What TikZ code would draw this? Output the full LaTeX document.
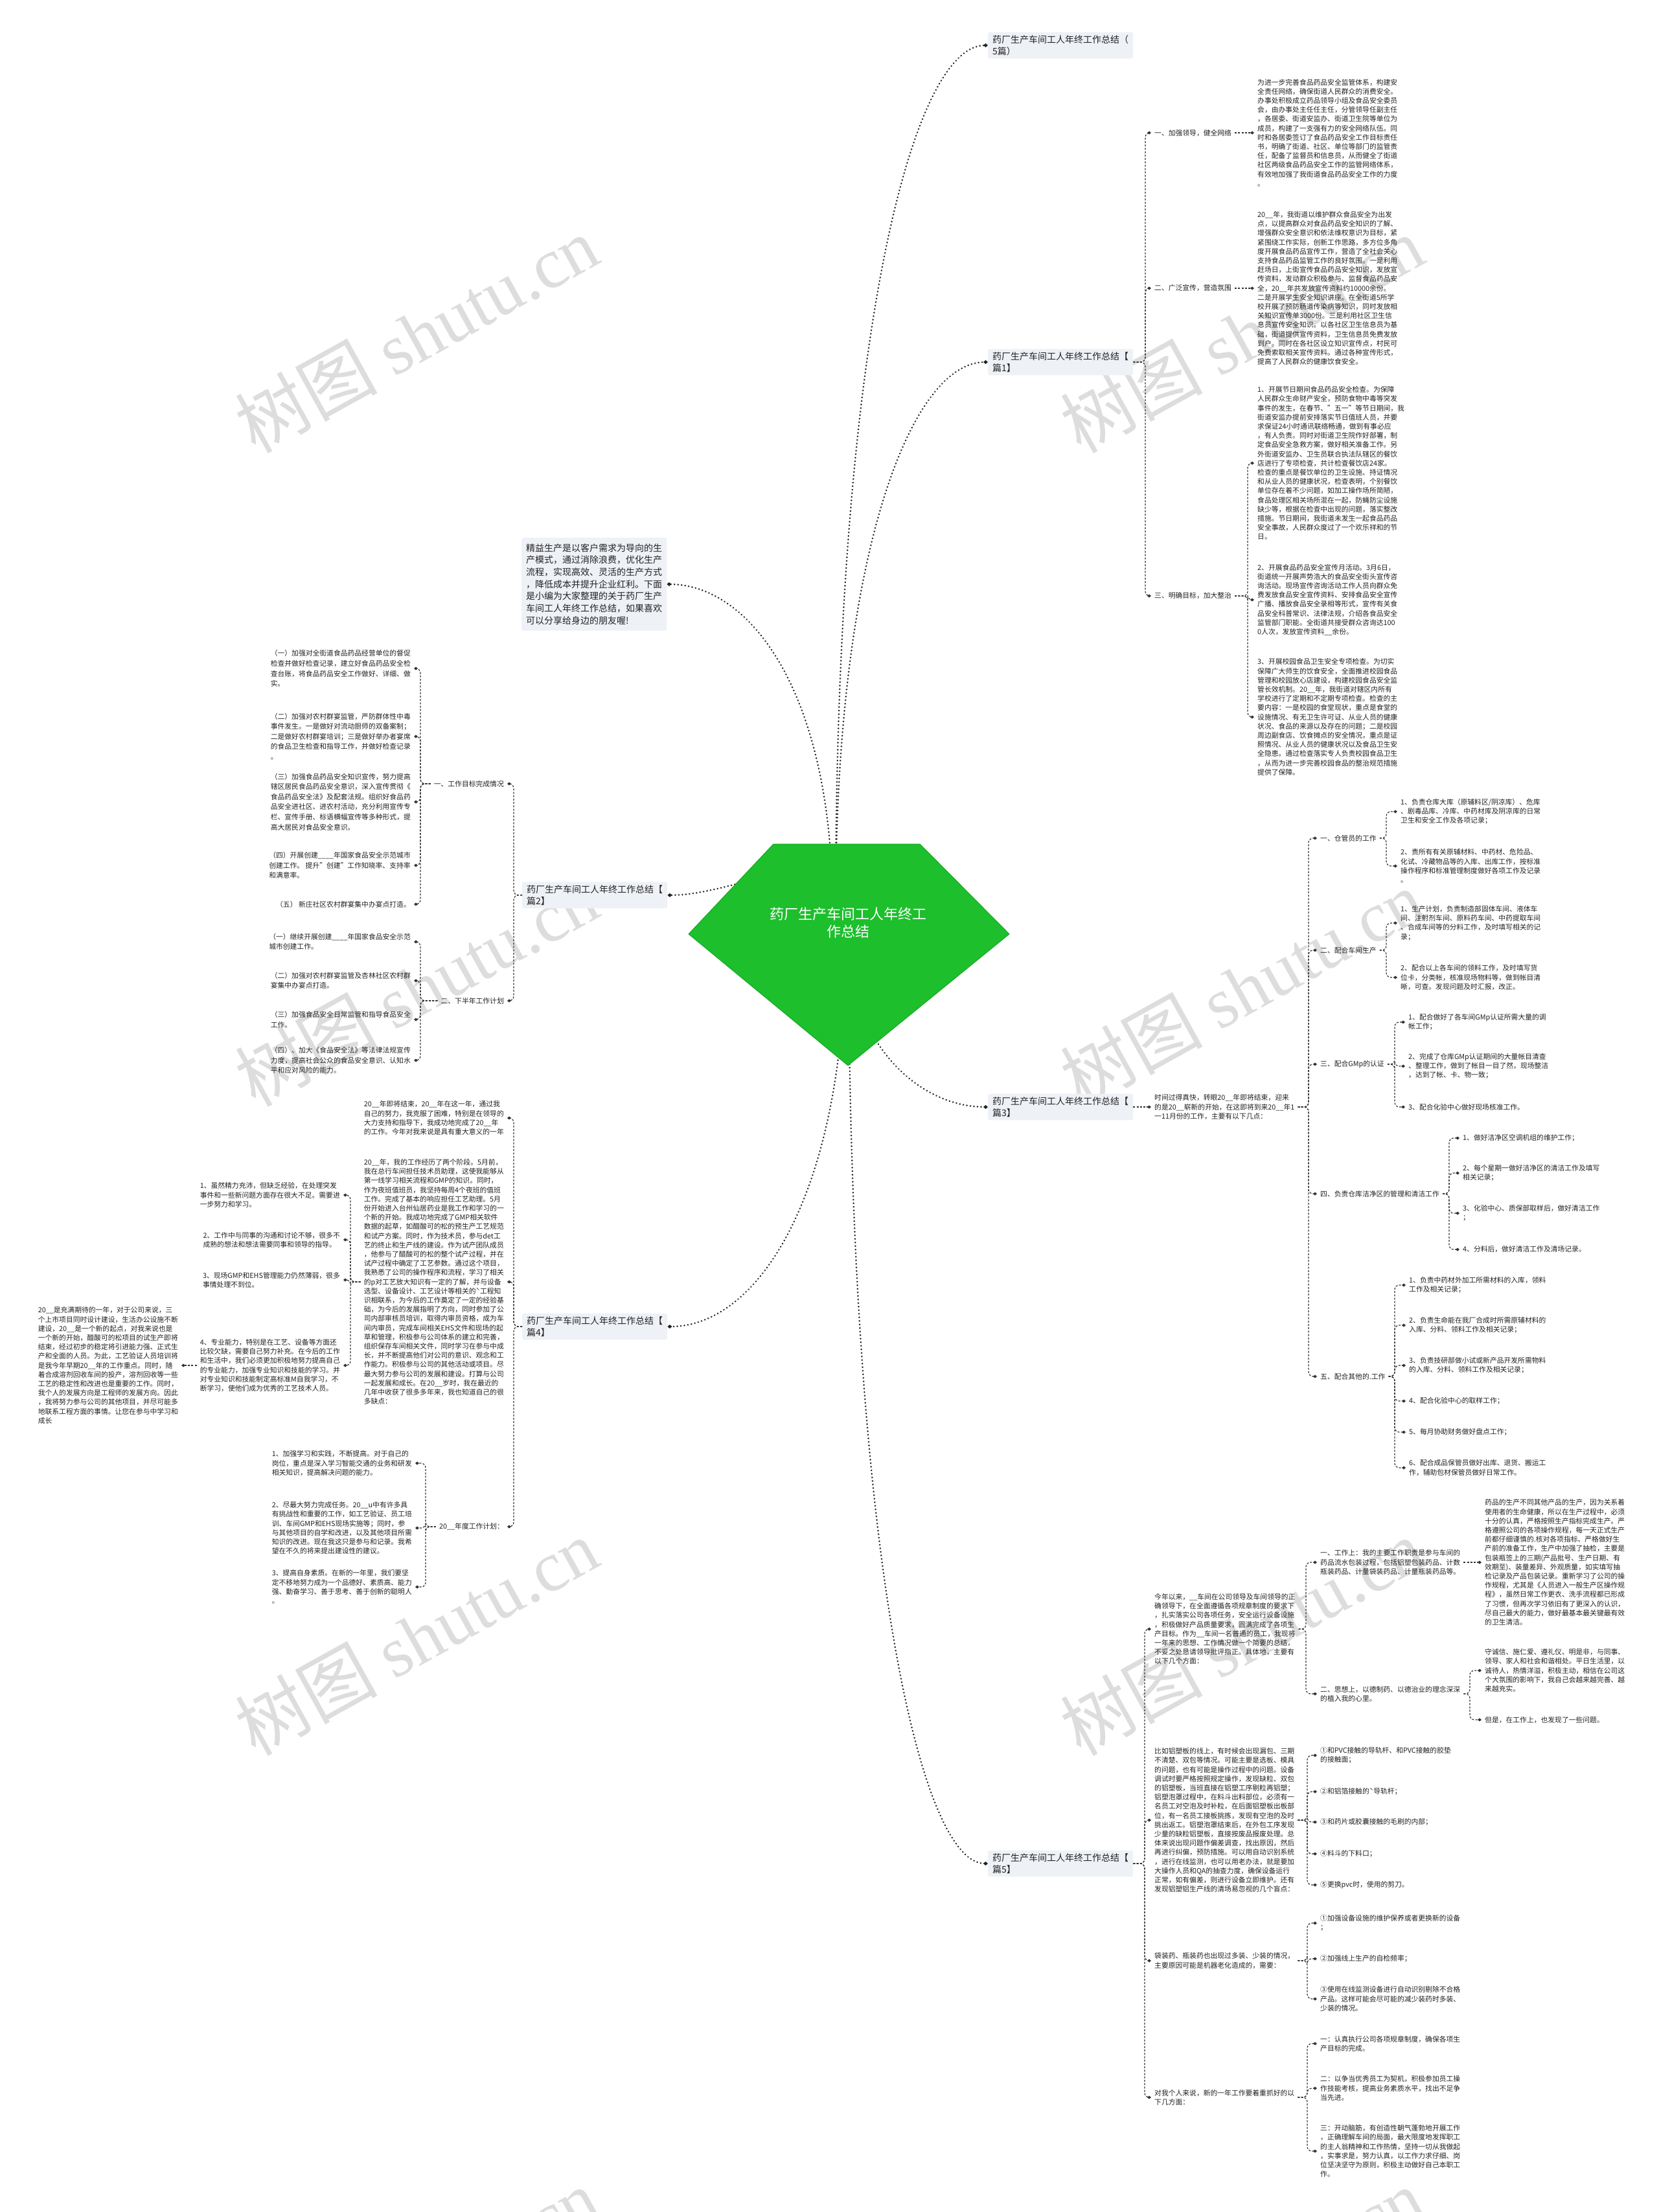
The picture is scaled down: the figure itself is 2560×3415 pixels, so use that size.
\documentclass[tikz,border=0pt]{standalone}
\usepackage{fontspec}
\setmainfont{Noto Sans CJK SC}
\newfontfamily\wmlat{Liberation Serif}
\usetikzlibrary{arrows.meta}
\definecolor{lc}{HTML}{333333}
\definecolor{mlc}{HTML}{222222}
\definecolor{tfill}{HTML}{EEF1F6}
\definecolor{rootg}{HTML}{1DBF2C}
\definecolor{rootb}{HTML}{17A824}
\definecolor{wmc}{HTML}{DDDDDD}
\definecolor{txc}{HTML}{222222}
\newcommand\conR[3]{\draw[sub] (#1.east) -| (#2,0 |- #3.west) -- (#3.west);}
\newcommand\conL[3]{\draw[sub] (#1.west) -| (#2,0 |- #3.east) -- (#3.east);}
\newcommand\wmark[2]{\node[wm] at (#1,#2) {树图 {\wmlat shutu.cn}};}
\begin{document}
\begin{tikzpicture}[x=1pt,y=-1pt,
 body/.style={inner xsep=5pt,inner ysep=1pt,align=left,text=txc,font=\fontsize{10.8}{14.2}\selectfont},
 bodyB/.style={body,font=\fontsize{10.8}{15.6}\selectfont},
 ttl/.style={fill=tfill,rounded corners=3pt,inner xsep=7pt,inner ysep=5pt,align=left,text=txc,font=\fontsize{14}{17.5}\selectfont},
 sub/.style={draw=lc,line width=1.2pt,dash pattern=on 3pt off 2.2pt,rounded corners=7pt,-{Diamond[length=6pt,width=5pt]}},
 mainc/.style={draw=mlc,line width=2.8pt,dash pattern=on 0.01pt off 5.5pt,line cap=round,-{Diamond[length=7pt,width=6pt]}},
 wm/.style={text=wmc,font=\fontsize{110}{110}\selectfont,rotate=29},
]
\fill[white] (0,0) rectangle (2560,3415);
\useasboundingbox (0,0) rectangle (2560,3415);
% watermarks
\wmark{643}{516}\wmark{1917}{516}
\wmark{643}{1525}\wmark{1917}{1525}
\wmark{643}{2527}\wmark{1917}{2527}
\wmark{643}{3530}\wmark{1917}{3530}

% ---------- titles ----------
\node[ttl,anchor=west] (b0) at (1525,70) {药厂生产车间工人年终工作总结（\\5篇）};
\node[ttl,anchor=west] (b1) at (1525,559) {药厂生产车间工人年终工作总结【\\篇1】};
\node[ttl,anchor=west] (b2) at (806,1382) {药厂生产车间工人年终工作总结【\\篇2】};
\node[ttl,anchor=west] (b3) at (1525,1709) {药厂生产车间工人年终工作总结【\\篇3】};
\node[ttl,anchor=west] (b4) at (806,2048) {药厂生产车间工人年终工作总结【\\篇4】};
\node[ttl,anchor=west] (b5) at (1525,2877) {药厂生产车间工人年终工作总结【\\篇5】};
\node[fill=tfill,rounded corners=3pt,anchor=north west,inner xsep=7pt,inner ysep=9pt,align=left,text=txc,font=\fontsize{14}{18.7}\selectfont] (intro) at (805,830)
 {精益生产是以客户需求为导向的生\\产模式，通过消除浪费，优化生产\\流程，实现高效、灵活的生产方式\\，降低成本并提升企业红利。下面\\是小编为大家整理的关于药厂生产\\车间工人年终工作总结，如果喜欢\\可以分享给身边的朋友喔!};

% ---------- main connectors ----------
\draw[mainc] (1290,1400) .. controls (1290,528) and (1407,70) .. (b0.west);
\draw[mainc] (1290,1400) .. controls (1290,853) and (1407,559) .. (b1.west);
\draw[mainc] (1285,1400) .. controls (1285,1077) and (1162,903) .. (intro.east);
\draw[mainc] (1285,1400) .. controls (1285,1290) and (1140,1382) .. (b2.east);
\draw[mainc] (1310,1450) .. controls (1310,1608) and (1417,1709) .. (b3.west);
\draw[mainc] (1305,1450) .. controls (1305,1839) and (1172,2048) .. (b4.east);
\draw[mainc] (1310,1450) .. controls (1310,2378) and (1417,2877) .. (b5.west);

% ---------- root ----------
\fill[rootg,draw=rootb,line width=1pt] (1194,1303) -- (1420,1303) -- (1558,1442) -- (1309,1645) -- (1063,1442) -- cycle;
\node[text=white,align=center,font=\fontsize{22}{27}\selectfont] (root) at (1309,1425) {药厂生产车间工人年终工\\作总结};

% ---------- 篇1 ----------
\node[body,anchor=west] (L1a) at (1777,205) {一、加强领导，健全网络};
\node[body,anchor=west] (L1b) at (1777,445) {二、广泛宣传，营造氛围};
\node[body,anchor=west] (L1c) at (1777,920) {三、明确目标，加大整治};
\conR{b1}{1768}{L1a}\conR{b1}{1768}{L1b}\conR{b1}{1768}{L1c}
\node[body,anchor=west] (B1a) at (1936,205) {为进一步完善食品药品安全监管体系，构建安\\全责任网络，确保街道人民群众的消费安全。\\办事处积极成立药品领导小组及食品安全委员\\会，由办事处主任任主任，分管领导任副主任\\，各居委、街道安监办、街道卫生院等单位为\\成员，构建了一支强有力的安全网络队伍。同\\时和各居委签订了食品药品安全工作目标责任\\书，明确了街道、社区、单位等部门的监管责\\任，配备了监督员和信息员，从而健全了街道\\社区两级食品药品安全工作的监管网络体系，\\有效地加强了我街道食品药品安全工作的力度\\。};
\node[body,anchor=west] (B1b) at (1936,445) {20\_\_年，我街道以维护群众食品安全为出发\\点，以提高群众对食品药品安全知识的了解、\\增强群众安全意识和依法维权意识为目标，紧\\紧围绕工作实际，创新工作思路，多方位多角\\度开展食品药品宣传工作，营造了全社会关心\\支持食品药品监管工作的良好氛围。一是利用\\赶场日，上街宣传食品药品安全知识，发放宣\\传资料，发动群众积极参与、监督食品药品安\\全，20\_\_年共发放宣传资料约10000余份。\\二是开展学生安全知识讲座。在全街道5所学\\校开展了预防肠道传染病等知识，同时发放相\\关知识宣传单3000份。三是利用社区卫生信\\息员宣传安全知识。以各社区卫生信息员为基\\础，街道提供宣传资料，卫生信息员免费发放\\到户。同时在各社区设立知识宣传点，村民可\\免费索取相关宣传资料。通过各种宣传形式，\\提高了人民群众的健康饮食安全。};
\node[body,anchor=west] (B1c1) at (1936,715) {1、开展节日期间食品药品安全检查。为保障\\人民群众生命财产安全，预防食物中毒等突发\\事件的发生，在春节、"五一"等节日期间，我\\街道安监办提前安排落实节日值班人员，并要\\求保证24小时通讯联络畅通，做到有事必应\\，有人负责。同时对街道卫生院作好部署，制\\定食品安全急救方案，做好相关准备工作。另\\外街道安监办、卫生员联合执法队辖区的餐饮\\店进行了专项检查，共计检查餐饮店24家。\\检查的重点是餐饮单位的卫生设施、持证情况\\和从业人员的健康状况，检查表明，个别餐饮\\单位存在着不少问题，如加工操作场所简陋，\\食品处理区相关场所混在一起，防蝇防尘设施\\缺少等，根据在检查中出现的问题，落实整改\\措施。节日期间，我街道未发生一起食品药品\\安全事故，人民群众度过了一个欢乐祥和的节\\日。};
\node[body,anchor=west] (B1c2) at (1936,926) {2、开展食品药品安全宣传月活动。3月6日，\\街道统一开展声势浩大的食品安全街头宣传咨\\询活动。现场宣传咨询活动工作人员向群众免\\费发放食品安全宣传资料、安排食品安全宣传\\广播、播放食品安全录相等形式，宣传有关食\\品安全科普常识、法律法规，介绍各食品安全\\监管部门职能。全街道共接受群众咨询达100\\0人次，发放宣传资料\_\_余份。};
\node[body,anchor=west] (B1c3) at (1936,1107) {3、开展校园食品卫生安全专项检查。为切实\\保障广大师生的饮食安全，全面推进校园食品\\管理和校园放心店建设，构建校园食品安全监\\管长效机制。20\_\_年，我街道对辖区内所有\\学校进行了定期和不定期专项检查。检查的主\\要内容：一是校园的食堂现状，重点是食堂的\\设施情况、有无卫生许可证、从业人员的健康\\状况、食品的来源以及存在的问题；二是校园\\周边副食店、饮食摊点的安全情况，重点是证\\照情况、从业人员的健康状况以及食品卫生安\\全隐患。通过检查落实专人负责校园食品卫生\\，从而为进一步完善校园食品的整治规范措施\\提供了保障。};
\draw[sub] (L1a.east) -- (B1a.west);
\draw[sub] (L1b.east) -- (B1b.west);
\conR{L1c}{1926}{B1c1}\conR{L1c}{1926}{B1c2}\conR{L1c}{1926}{B1c3}

% ---------- 篇2 ----------
\node[body,anchor=east] (LA) at (783,1210) {一、工作目标完成情况};
\node[body,anchor=east] (LB) at (783,1545) {二、下半年工作计划};
\conL{b2}{793}{LA}\conL{b2}{793}{LB}
\node[bodyB,anchor=east] (A1) at (639,1032) {（一）加强对全街道食品药品经营单位的督促\\检查并做好检查记录，建立好食品药品安全检\\查台账，将食品药品安全工作做好、详细、做\\实。};
\node[bodyB,anchor=east] (A2) at (639,1137) {（二）加强对农村群宴监管，严防群体性中毒\\事件发生。一是做好对流动厨师的双备案制；\\二是做好农村群宴培训；三是做好举办者宴席\\的食品卫生检查和指导工作，并做好检查记录\\。};
\node[bodyB,anchor=east] (A3) at (639,1238) {（三）加强食品药品安全知识宣传，努力提高\\辖区居民食品药品安全意识，深入宣传贯彻《\\食品药品安全法》及配套法规。组织好食品药\\品安全进社区、进农村活动，充分利用宣传专\\栏、宣传手册、标语横幅宣传等多种形式，提\\高大居民对食品安全意识。};
\node[bodyB,anchor=east] (A4) at (639,1336) {（四）开展创建\_\_\_\_年国家食品安全示范城市\\创建工作。 提升"创建"工作知晓率、支持率\\和满意率。};
\node[bodyB,anchor=east] (A5) at (639,1396) {（五） 新庄社区农村群宴集中办宴点打造。};
\conL{LA}{649}{A1}\conL{LA}{649}{A2}\conL{LA}{649}{A3}\conL{LA}{649}{A4}\conL{LA}{649}{A5}
\node[bodyB,anchor=east] (C1) at (639,1454) {（一）继续开展创建\_\_\_\_年国家食品安全示范\\城市创建工作。};
\node[bodyB,anchor=east] (C2) at (639,1514) {（二）加强对农村群宴监管及杏林社区农村群\\宴集中办宴点打造。};
\node[bodyB,anchor=east] (C3) at (639,1574) {（三）加强食品安全日常监管和指导食品安全\\工作。};
\node[bodyB,anchor=east] (C4) at (639,1637) {（四）、加大《食品安全法》等法律法规宣传\\力度，提高社会公众的食品安全意识、认知水\\平和应对风险的能力。};
\conL{LB}{649}{C1}\conL{LB}{649}{C2}\conL{LB}{649}{C3}\conL{LB}{649}{C4}

% ---------- 篇3 ----------
\node[body,anchor=west] (P) at (1777,1709) {时间过得真快，转眼20\_\_年即将结束，迎来\\的是20\_\_崭新的开始，在这即将到来20\_\_年1\\一11月份的工作，主要有以下几点：};
\draw[sub] (b3.east) -- (P.west);
\node[body,anchor=west] (Q1) at (2033,1294) {一、仓管员的工作};
\node[body,anchor=west] (Q2) at (2033,1467) {二、配合车间生产};
\node[body,anchor=west] (Q3) at (2033,1643) {三、配合GMp的认证};
\node[body,anchor=west] (Q4) at (2033,1843) {四、负责仓库洁净区的管理和清洁工作};
\node[body,anchor=west] (Q5) at (2033,2125) {五、配合其他的.工作};
\conR{P}{2020}{Q1}\conR{P}{2020}{Q2}\conR{P}{2020}{Q3}\conR{P}{2020}{Q4}\conR{P}{2020}{Q5}
\node[body,anchor=west] (Q11) at (2157,1253) {1、负责仓库大库（原辅料区/阴凉库）、危库\\、剧毒品库、冷库、中药材库及阴凉库的日常\\卫生和安全工作及各项记录；};
\node[body,anchor=west] (Q12) at (2157,1337) {2、责所有有关原辅材料、中药材、危险品、\\化试、冷藏物品等的入库、出库工作，按标准\\操作程序和标准管理制度做好各项工作及记录\\。};
\conR{Q1}{2140}{Q11}\conR{Q1}{2140}{Q12}
\node[body,anchor=west] (Q21) at (2157,1425) {1、生产计划，负责制造部固体车间、液体车\\间、注射剂车间、原料药车间、中药提取车间\\、合成车间等的分料工作，及时填写相关的记\\录；};
\node[body,anchor=west] (Q22) at (2157,1509) {2、配合以上各车间的领料工作，及时填写货\\位卡，分类帐，核准现场物料等，做到帐目清\\晰，可查。发现问题及时汇报，改正。};
\conR{Q2}{2140}{Q21}\conR{Q2}{2140}{Q22}
\node[body,anchor=west] (Q31) at (2169,1578) {1、配合做好了各车间GMp认证所需大量的调\\帐工作；};
\node[body,anchor=west] (Q32) at (2169,1646) {2、完成了仓库GMp认证期间的大量帐目清查\\、整理工作，做到了帐目一目了然，现场整洁\\，达到了帐、卡、物一致；};
\node[body,anchor=west] (Q33) at (2169,1709) {3、配合化验中心做好现场核准工作。};
\conR{Q3}{2153}{Q31}\conR{Q3}{2153}{Q32}\conR{Q3}{2153}{Q33}
\node[body,anchor=west] (Q41) at (2253,1757) {1、做好洁净区空调机组的维护工作；};
\node[body,anchor=west] (Q42) at (2253,1811) {2、每个星期一做好洁净区的清洁工作及填写\\相关记录；};
\node[body,anchor=west] (Q43) at (2253,1873) {3、化验中心、质保部取样后，做好清洁工作\\；};
\node[body,anchor=west] (Q44) at (2253,1929) {4、分料后，做好清洁工作及清场记录。};
\conR{Q4}{2237}{Q41}\conR{Q4}{2237}{Q42}\conR{Q4}{2237}{Q43}\conR{Q4}{2237}{Q44}
\node[body,anchor=west] (Q51) at (2170,1984) {1、负责中药材外加工所需材料的入库，领料\\工作及相关记录；};
\node[body,anchor=west] (Q52) at (2170,2046) {2、负责生命能在我厂合成时所需原辅材料的\\入库、分料、领料工作及相关记录；};
\node[body,anchor=west] (Q53) at (2170,2108) {3、负责技研部做小试或新产品开发所需物料\\的入库、分料、领料工作及相关记录；};
\node[body,anchor=west] (Q54) at (2170,2163) {4、配合化验中心的取样工作；};
\node[body,anchor=west] (Q55) at (2170,2211) {5、每月协助财务做好盘点工作；};
\node[body,anchor=west] (Q56) at (2170,2266) {6、配合成品保管员做好出库、退货、搬运工\\作，辅助包材保管员做好日常工作。};
\conR{Q5}{2153}{Q51}\conR{Q5}{2153}{Q52}\conR{Q5}{2153}{Q53}\conR{Q5}{2153}{Q54}\conR{Q5}{2153}{Q55}\conR{Q5}{2153}{Q56}

% ---------- 篇4 ----------
\node[body,anchor=east] (K1) at (783,1726) {20\_\_年即将结束，20\_\_年在这一年，通过我\\自己的努力，我克服了困难，特别是在领导的\\大力支持和指导下，我成功地完成了20\_\_年\\的工作。今年对我来说是具有重大意义的一年};
\node[body,anchor=east] (K2) at (783,1979) {20\_\_年，我的工作经历了两个阶段。5月前，\\我在总行车间担任技术员助理，这使我能够从\\第一线学习相关流程和GMP的知识。同时，\\作为夜班值班员，我坚持每周4个夜班的值班\\工作。完成了基本的响应担任工艺助理。5月\\份开始进入台州仙居药业是我工作和学习的一\\个新的开始。我成功地完成了GMP相关软件\\数据的起草，如醋酸可的松的预生产工艺规范\\和试产方案。同时，作为技术员，参与det工\\艺的终止和生产线的建设。作为试产团队成员\\，他参与了醋酸可的松的整个试产过程，并在\\试产过程中确定了工艺参数。通过这个项目，\\我熟悉了公司的操作程序和流程，学习了相关\\的p对工艺放大知识有一定的了解，并与设备\\选型、设备设计、工艺设计等相关的ˋ工程知\\识相联系，为今后的工作奠定了一定的经验基\\础，为今后的发展指明了方向，同时参加了公\\司内部审核员培训，取得内审员资格，成为车\\间内审员，完成车间相关EHS文件和现场的起\\草和管理，积极参与公司体系的建立和完善，\\组织保存车间相关文件，同时学习在参与中成\\长，并不断提高他们对公司的意识、观念和工\\作能力。积极参与公司的其他活动或项目。尽\\最大努力参与公司的发展和建设。打算与公司\\一起发展和成长。在20\_\_岁时，我在最近的\\几年中收获了很多多年来，我也知道自己的很\\多缺点：};
\node[body,anchor=east] (K3) at (783,2357) {20\_\_年度工作计划：};
\conL{b4}{793}{K1}\conL{b4}{793}{K2}\conL{b4}{793}{K3}
\node[body,anchor=east] (M1) at (530,1845) {1、虽然精力充沛，但缺乏经验，在处理突发\\事件和一些新问题方面存在很大不足。需要进\\一步努力和学习。};
\node[body,anchor=east] (M2) at (530,1914) {2、工作中与同事的沟通和讨论不够，很多不\\成熟的想法和想法需要同事和领导的指导。};
\node[body,anchor=east] (M3) at (530,1976) {3、现场GMP和EHS管理能力仍然薄弱，很多\\事情处理不到位。};
\node[body,anchor=east] (M4) at (530,2108) {4、专业能力，特别是在工艺、设备等方面还\\比较欠缺，需要自己努力补充。在今后的工作\\和生活中，我们必须更加积极地努力提高自己\\的专业能力，加强专业知识和技能的学习。并\\对专业知识和技能制定高标准M自我学习，不\\断学习，使他们成为优秀的工艺技术人员。};
\conL{K2}{541}{M1}\conL{K2}{541}{M2}\conL{K2}{541}{M3}\conL{K2}{541}{M4}
\node[body,anchor=east] (Y) at (280,2108) {20\_\_是充满期待的一年，对于公司来说，三\\个上市项目同时设计建设，生活办公设施不断\\建设，20\_\_是一个新的起点，对我来说也是\\一个新的开始，醋酸可的松项目的试生产即将\\结束，经过初步的稳定将引进能力强、正式生\\产和全面的人员。为此，工艺验证人员培训将\\是我今年早期20\_\_年的工作重点。同时，随\\着合成溶剂回收车间的投产，溶剂回收等一些\\工艺的稳定性和改进也是重要的工作。同时，\\我个人的发展方向是工程师的发展方向。因此\\，我将努力参与公司的其他项目，并尽可能多\\地联系工程方面的事情。让您在参与中学习和\\成长};
\draw[sub] (M4.west) -- (Y.east);
\node[body,anchor=east] (N1) at (641,2259) {1、加强学习和实践，不断提高。对于自己的\\岗位，重点是深入学习智能交通的业务和研发\\相关知识，提高解决问题的能力。};
\node[body,anchor=east] (N2) at (641,2359) {2、尽最大努力完成任务。20\_\_u中有许多具\\有挑战性和重要的工作，如工艺验证、员工培\\训、车间GMP和EHS现场实施等；同时，参\\与其他项目的自学和改进，以及其他项目所需\\知识的改进。现在我这只是参与和记录。我希\\望在不久的将来提出建设性的建议。};
\node[body,anchor=east] (N3) at (641,2450) {3、提高自身素质。在新的一年里，我们要坚\\定不移地努力成为一个品德好、素质高、能力\\强、勤奋学习、善于思考、善于创新的聪明人\\。};
\conL{K3}{657}{N1}\conL{K3}{657}{N2}\conL{K3}{657}{N3}

% ---------- 篇5 ----------
\node[body,anchor=west] (R1) at (1777,2515) {今年以来，\_\_车间在公司领导及车间领导的正\\确领导下，在全面遵循各项规章制度的要求下\\，扎实落实公司各项任务，安全运行设备设施\\，积极做好产品质量要求，圆满完成了各项生\\产目标。作为\_\_车间一名普通的员工，我现将\\一年来的思想、工作情况做一个简要的总结，\\不妥之处恳请领导批评指正。具体地，主要有\\以下几个方面：};
\node[body,anchor=west] (R2) at (1777,2810) {比如铝塑板的线上，有时候会出现漏包、三期\\不清楚、双包等情况。可能主要是选板、模具\\的问题，也有可能是操作过程中的问题。设备\\调试时要严格按照规定操作，发现缺粒、双包\\的铝塑板，当班直接在铝塑工序剔粒再铝塑；\\铝塑泡罩过程中，在料斗出料部位，必须有一\\名员工对空泡及时补粒，在后面铝塑板出板部\\位，有一名员工接板挑拣，发现有空泡的及时\\挑出返工。铝塑泡罩结束后，在外包工序发现\\少量的缺粒铝塑板，直接按废品报废处理。总\\体来说出现问题作偏差调查，找出原因，然后\\再进行纠偏，预防措施。可以用自动识别系统\\，进行在线监测，也可以用老办法，就是要加\\大操作人员和QA的抽查力度，确保设备运行\\正常，如有偏差，则进行设备立即维护。还有\\发现铝塑铝生产线的清场易忽视的几个盲点：};
\node[body,anchor=west] (R3) at (1777,3027) {袋装药、瓶装药也出现过多装、少装的情况，\\主要原因可能是机器老化造成的，需要：};
\node[body,anchor=west] (R4) at (1777,3238) {对我个人来说，新的一年工作要着重抓好的以\\下几方面：};
\conR{b5}{1767}{R1}\conR{b5}{1767}{R2}\conR{b5}{1767}{R3}\conR{b5}{1767}{R4}
\node[body,anchor=west] (S1) at (2033,2412) {一、工作上：我的主要工作职责是参与车间的\\药品流水包装过程，包括铝塑包装药品、计数\\瓶装药品、计量袋装药品、计量瓶装药品等。};
\node[body,anchor=west] (S2) at (2033,2615) {二、思想上，以德制药、以德治业的理念深深\\的植入我的心里。};
\conR{R1}{2016}{S1}\conR{R1}{2016}{S2}
\node[body,anchor=west] (W1) at (2287,2412) {药品的生产不同其他产品的生产，因为关系着\\使用者的生命健康，所以在生产过程中，必须\\十分的认真，严格按照生产指标完成生产。严\\格遵照公司的各项操作规程，每一天正式生产\\前都仔细谨慎的.核对各项指标、严格做好生\\产前的准备工作，生产中加强了抽检，主要是\\包装瓶签上的三期(产品批号、生产日期、有\\效期至)、装量差异、外观质量，如实填写抽\\检记录及产品包装记录。重新学习了公司的操\\作规程，尤其是《人员进入一般生产区操作规\\程》，虽然日常工作更衣、洗手流程都已形成\\了习惯，但再次学习依旧有了更深入的认识，\\尽自己最大的能力，做好最基本最关键最有效\\的卫生清洁。};
\draw[sub] (S1.east) -- (W1.west);
\node[body,anchor=west] (X1) at (2287,2579) {守诚信、施仁爱、遵礼仪、明是非，与同事、\\领导、家人和社会和谐相处。平日生活里，以\\诚待人，热情洋溢，积极主动，相信在公司这\\个大氛围的影响下，我自己会越来越完善、越\\来越充实。};
\node[body,anchor=west] (X2) at (2287,2655) {但是，在工作上，也发现了一些问题。};
\conR{S2}{2269}{X1}\conR{S2}{2269}{X2}
\node[body,anchor=west] (T1) at (2033,2710) {①和PVC接触的导轨杆、和PVC接触的胶垫\\的接触面；};
\node[body,anchor=west] (T2) at (2033,2766) {②和铝箔接触的ˋ导轨杆；};
\node[body,anchor=west] (T3) at (2033,2813) {③和药片或胶囊接触的毛刷的内部；};
\node[body,anchor=west] (T4) at (2033,2862) {④料斗的下料口；};
\node[body,anchor=west] (T5) at (2033,2910) {⑤更换pvc时，使用的剪刀。};
\conR{R2}{2018}{T1}\conR{R2}{2018}{T2}\conR{R2}{2018}{T3}\conR{R2}{2018}{T4}\conR{R2}{2018}{T5}
\node[body,anchor=west] (U1) at (2033,2969) {①加强设备设施的维护保养或者更换新的设备\\；};
\node[body,anchor=west] (U2) at (2033,3024) {②加强线上生产的自检频率；};
\node[body,anchor=west] (U3) at (2033,3086) {③使用在线监测设备进行自动识别剔除不合格\\产品。这样可能会尽可能的减少装药时多装、\\少装的情况。};
\conR{R3}{2018}{U1}\conR{R3}{2018}{U2}\conR{R3}{2018}{U3}
\node[body,anchor=west] (V1) at (2033,3155) {一：认真执行公司各项规章制度，确保各项生\\产目标的完成。};
\node[body,anchor=west] (V2) at (2033,3224) {二：以争当优秀员工为契机，积极参加员工操\\作技能考核，提高业务素质水平，找出不足争\\当先进。};
\node[body,anchor=west] (V3) at (2033,3321) {三：开动脑筋，有创造性朝气蓬勃地开展工作\\，正确理解车间的局面，最大限度地发挥职工\\的主人翁精神和工作热情，坚持一切从我做起\\，实事求是，努力认真，以工作力求仔细、岗\\位坚决坚守为原则，积极主动做好自己本职工\\作。};
\conR{R4}{2018}{V1}\conR{R4}{2018}{V2}\conR{R4}{2018}{V3}
\end{tikzpicture}
\end{document}
